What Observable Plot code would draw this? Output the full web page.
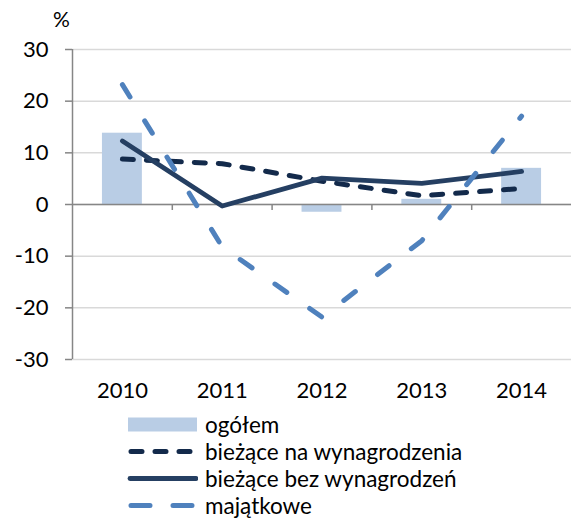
<!DOCTYPE html>
<html>
<head>
<meta charset="utf-8">
<script src="https://cdn.jsdelivr.net/npm/d3@7"></script>
<script src="https://cdn.jsdelivr.net/npm/@observablehq/plot@0.6"></script>
<style>
  body { margin: 0; background: white; font-family: Lato, sans-serif; }
  #legend { font-family: Lato, sans-serif; font-size: 22.5px; color: #000; }
  .row { display: flex; align-items: center; height: 27px; }
  .row svg { margin-left: 127px; flex: none; }
  .row span { margin-left: 7px; white-space: nowrap; }
</style>
</head>
<body>
<div id="chart"></div>
<div id="legend"></div>
<script>
// ---- data ----
const years = [2010, 2011, 2012, 2013, 2014];
const ogolem = [13.8, 0, -1.5, 1.0, 7.0];
const naWynagrodzenia = [8.8, 7.9, 4.5, 1.7, 3.1];
const bezWynagrodzen = [12.3, -0.3, 5.1, 4.1, 6.4];
const majatkowe = [23.2, -8.2, -21.8, -7.0, 17.1];
const yTicks = [-30, -20, -10, 0, 10, 20, 30];
const seriesNames = ["ogółem", "bieżące na wynagrodzenia", "bieżące bez wynagrodzeń", "majątkowe"];
const unitLabel = "%";

// ---- styles ----
const C = {
  bar: "#b9cde5",
  dash: "#132a4b",
  solid: "#253f62",
  light: "#4f81bd",
  grid: "#d9d9d9",
  axis: "#868686"
};

const rows = years.map((y, i) => ({
  year: y,
  ogolem: ogolem[i],
  naWyn: naWynagrodzenia[i],
  bezWyn: bezWynagrodzen[i],
  maj: majatkowe[i]
}));
const boundaries = years.slice(1).map(y => y - 0.5);

const chart = Plot.plot({
  width: 571,
  height: 411,
  marginTop: 49,
  marginBottom: 52,
  marginLeft: 72,
  marginRight: 0,
  style: { fontFamily: "Lato, sans-serif", fontSize: "22px", color: "#000", background: "white", overflow: "visible" },
  x: { type: "linear", domain: [years[0] - 0.5, years[years.length - 1] + 0.5] },
  y: { domain: [-30, 30] },
  marks: [
    Plot.gridY(yTicks, { stroke: C.grid, strokeOpacity: 1, strokeWidth: 1.5 }),
    Plot.rectY(rows, { x1: d => d.year - 0.2, x2: d => d.year + 0.2, y: "ogolem", fill: C.bar }),
    Plot.ruleY([0], { stroke: C.axis, strokeWidth: 1.5 }),
    Plot.ruleX([years[0] - 0.5], { stroke: C.axis, strokeWidth: 1.5 }),
    Plot.ruleX(boundaries, { y1: 0, y2: 0, insetBottom: -6, stroke: C.axis, strokeWidth: 1.5 }),
    Plot.axisY({ ticks: yTicks, tickSize: 7, tickPadding: 17, tickFormat: d => String(d), stroke: C.axis, strokeWidth: 1.5, label: null }),
    Plot.axisX({ ticks: years, tickSize: 0, tickPadding: 23, tickFormat: d => String(d), label: null }),
    Plot.text([unitLabel], { frameAnchor: "top-left", dx: -11, dy: -37, textAnchor: "middle", fontSize: 21 }),
    Plot.line(rows, { x: "year", y: "naWyn", stroke: C.dash, strokeWidth: 5, strokeDasharray: "11,13", strokeLinecap: "round", strokeLinejoin: "round" }),
    Plot.line(rows, { x: "year", y: "bezWyn", stroke: C.solid, strokeWidth: 4.8, strokeLinecap: "round", strokeLinejoin: "round" }),
    Plot.line(rows, { x: "year", y: "maj", stroke: C.light, strokeWidth: 5, strokeDasharray: "14.5,28", strokeLinecap: "round", strokeLinejoin: "round" })
  ]
});
document.getElementById("chart").appendChild(chart);

// ---- legend ----
const legendSymbols = [
  `<rect x="1" y="6.5" width="69" height="14" fill="${C.bar}"/>`,
  `<line x1="4" y1="13.5" x2="66" y2="13.5" stroke="${C.dash}" stroke-width="5" stroke-linecap="round" stroke-dasharray="11,13"/>`,
  `<line x1="3" y1="13.5" x2="69" y2="13.5" stroke="${C.solid}" stroke-width="4.8" stroke-linecap="round"/>`,
  `<line x1="4" y1="13.5" x2="66" y2="13.5" stroke="${C.light}" stroke-width="5" stroke-linecap="round" stroke-dasharray="19,23"/>`
];
const legend = document.getElementById("legend");
seriesNames.forEach((name, i) => {
  const row = document.createElement("div");
  row.className = "row";
  row.innerHTML = `<svg width="71" height="27">${legendSymbols[i]}</svg><span>${name}</span>`;
  legend.appendChild(row);
});
</script>
</body>
</html>
